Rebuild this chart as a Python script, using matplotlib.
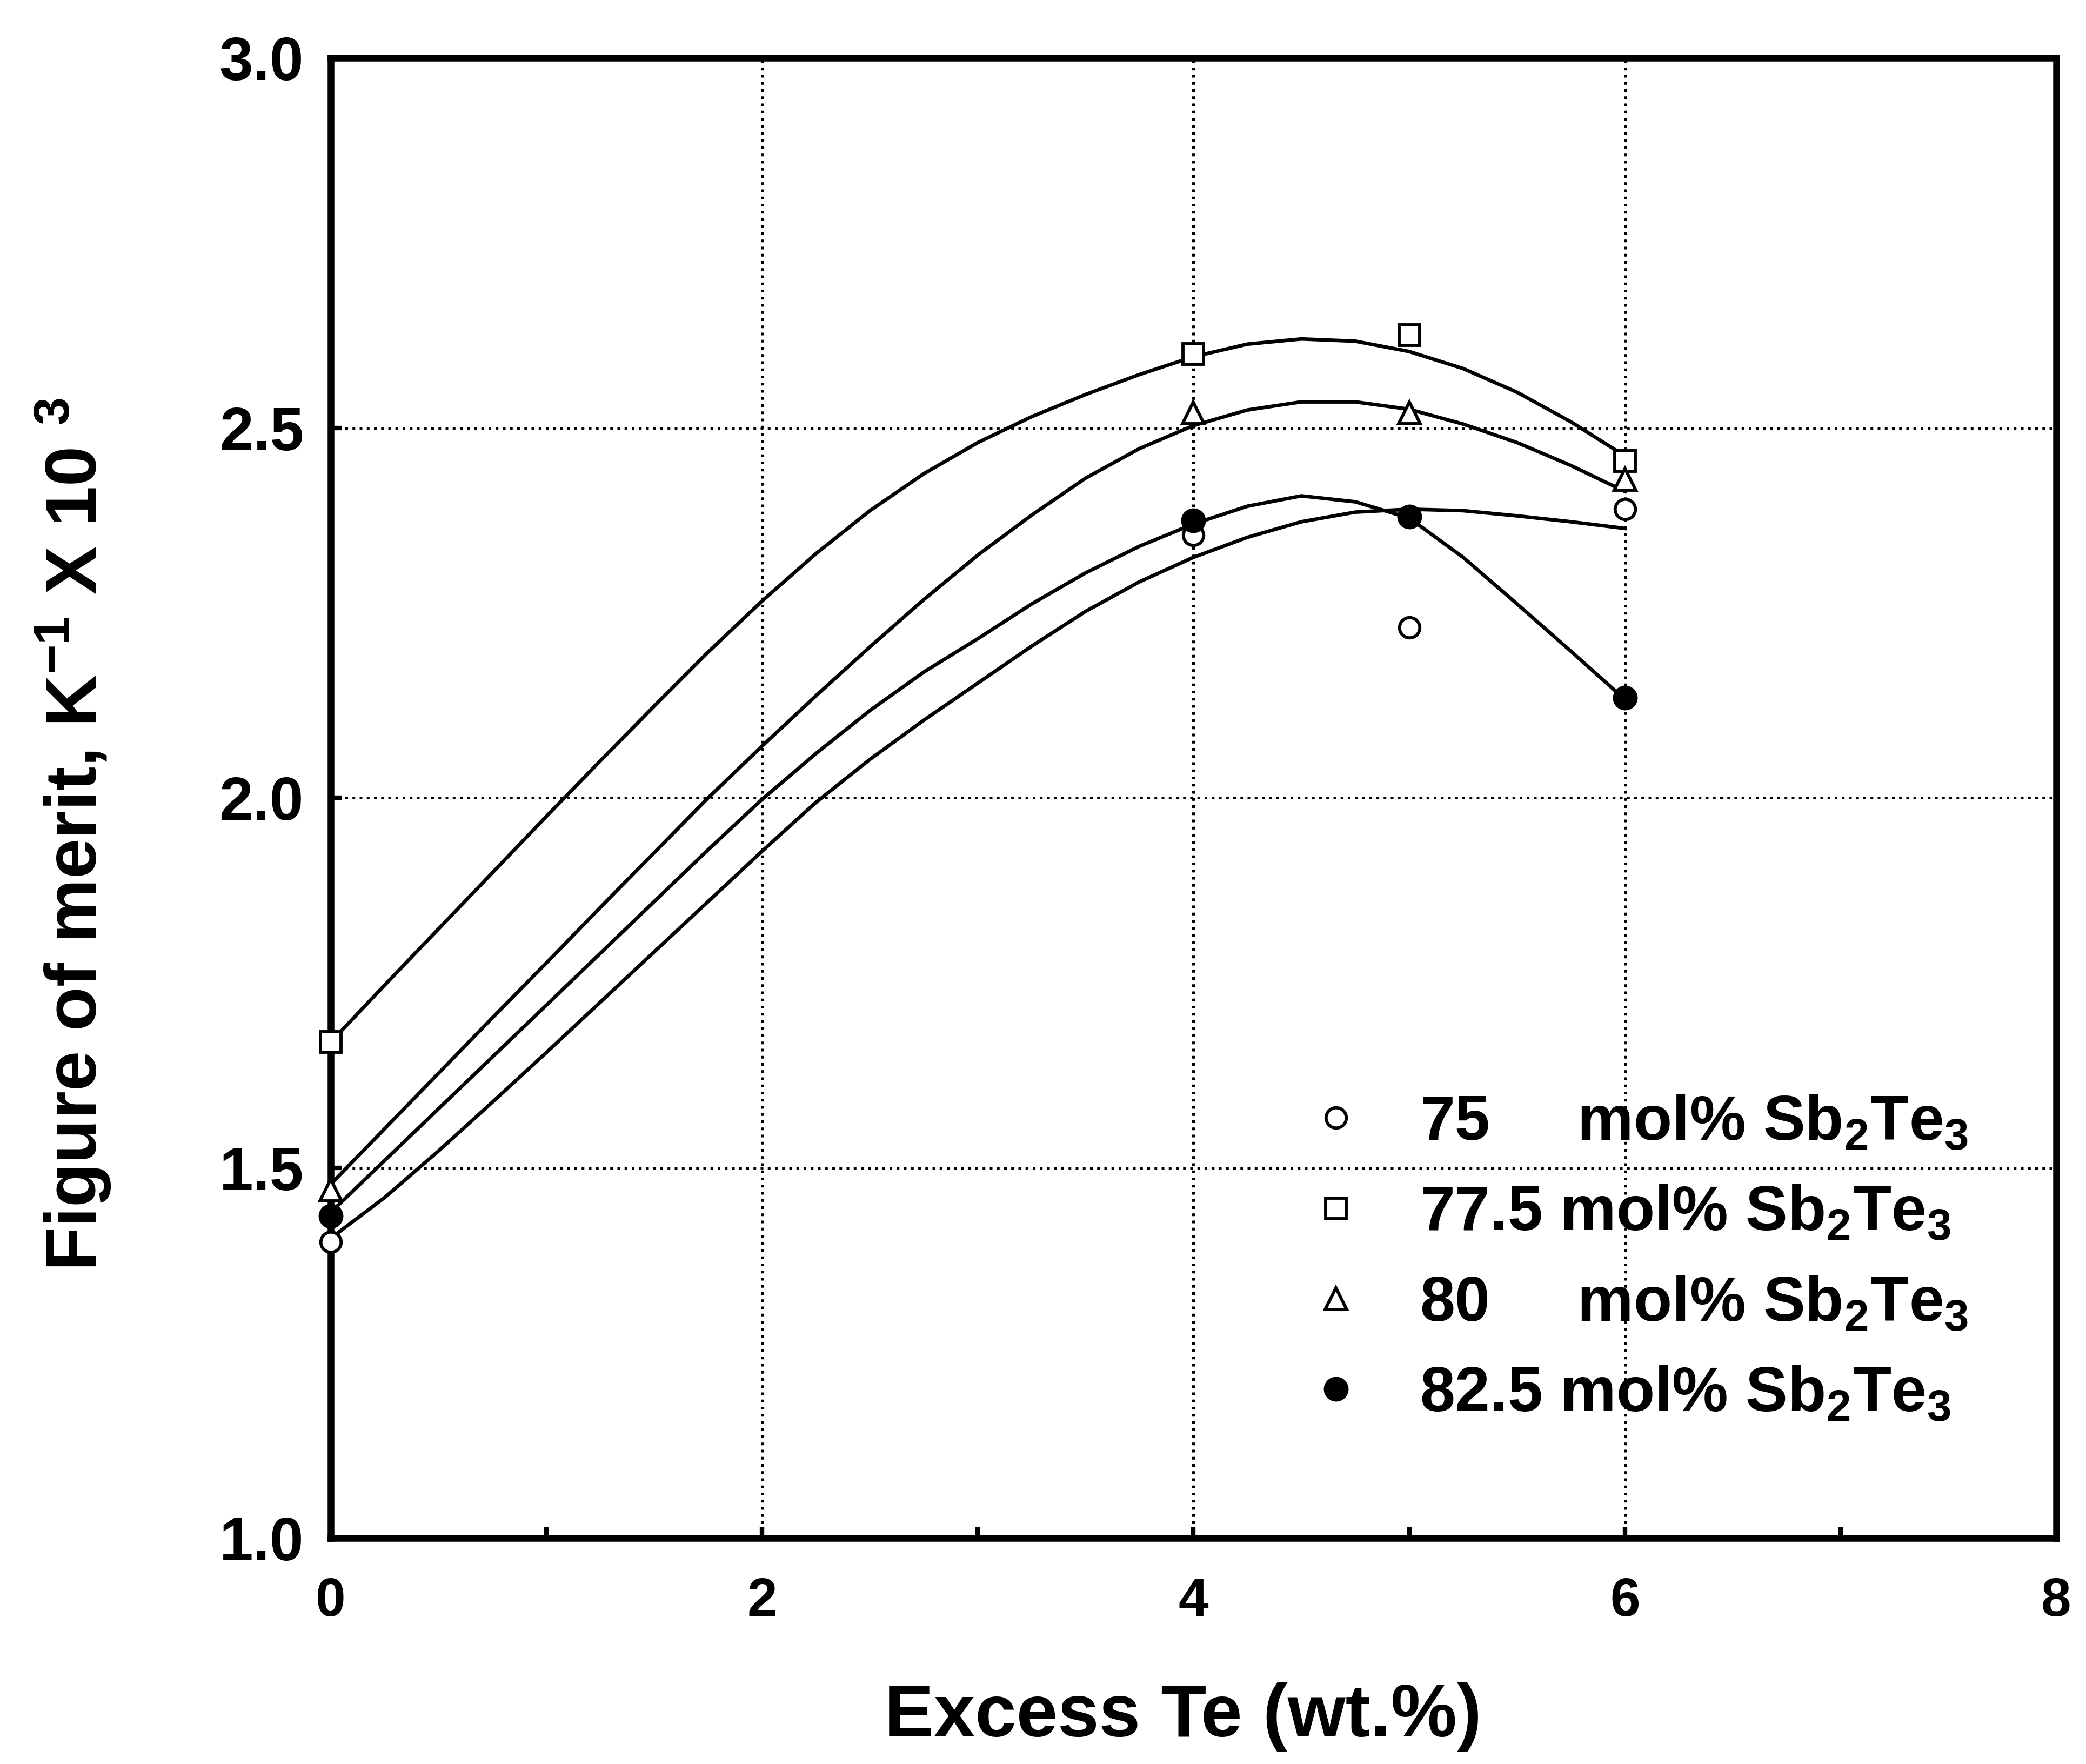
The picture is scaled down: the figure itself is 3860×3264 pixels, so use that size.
import matplotlib
matplotlib.use("Agg")
import matplotlib.pyplot as plt
from matplotlib.ticker import MultipleLocator

# measured figure of merit (x 10^3, 1/K) vs excess Te
excess_te = [0, 4, 5, 6]
zt_75 = [1.40, 2.355, 2.23, 2.39]
zt_775 = [1.67, 2.60, 2.625, 2.455]
zt_80 = [1.47, 2.52, 2.52, 2.43]
zt_825 = [1.435, 2.375, 2.38, 2.135]

# smoothed trend curves, sampled every 0.25 wt.%
curve_x = [0, 0.25, 0.5, 0.75, 1.0, 1.25, 1.5, 1.75, 2.0, 2.25, 2.5, 2.75, 3.0,
           3.25, 3.5, 3.75, 4.0, 4.25, 4.5, 4.75, 5.0, 5.25, 5.5, 5.75, 6.0]
fit_775 = [1.670, 1.747, 1.823, 1.899, 1.975, 2.050, 2.124, 2.197, 2.266, 2.330,
           2.388, 2.438, 2.480, 2.515, 2.545, 2.572, 2.596, 2.613, 2.620, 2.617,
           2.603, 2.580, 2.548, 2.508, 2.462]
fit_80 = [1.478, 1.553, 1.628, 1.703, 1.777, 1.852, 1.926, 2.000, 2.070, 2.138,
          2.204, 2.268, 2.328, 2.382, 2.432, 2.472, 2.503, 2.524, 2.535, 2.535,
          2.525, 2.505, 2.480, 2.449, 2.414]
fit_825 = [1.440, 1.510, 1.580, 1.650, 1.720, 1.790, 1.860, 1.930, 1.998, 2.060,
           2.118, 2.170, 2.215, 2.262, 2.304, 2.340, 2.370, 2.394, 2.408, 2.400,
           2.378, 2.325, 2.262, 2.198, 2.133]
fit_75 = [1.405, 1.460, 1.523, 1.589, 1.656, 1.724, 1.792, 1.860, 1.928, 1.994,
          2.052, 2.105, 2.155, 2.205, 2.252, 2.292, 2.325, 2.352, 2.373, 2.386,
          2.390, 2.388, 2.381, 2.373, 2.364]

x_ticks = [0, 2, 4, 6, 8]
y_ticks = [1.0, 1.5, 2.0, 2.5, 3.0]

plt.rcParams.update({
    "font.family": ["Liberation Sans", "DejaVu Sans"],
    "font.weight": "bold",
    "mathtext.fontset": "custom",
    "mathtext.rm": "Liberation Sans:bold",
    "mathtext.it": "Liberation Sans:bold",
    "mathtext.bf": "Liberation Sans:bold",
    "mathtext.sf": "Liberation Sans:bold",
})

fig = plt.figure(figsize=(12.87, 10.88), dpi=300)
ax = fig.add_axes([0.1585, 0.1281, 0.8270, 0.8392])

# trend curves
for fy in (fit_775, fit_80, fit_825, fit_75):
    ax.plot(curve_x, fy, color="black", linewidth=1.6, zorder=3)

# data points
ax.plot(excess_te, zt_75, linestyle="none", marker="o", markersize=9,
        markerfacecolor="white", markeredgecolor="black", markeredgewidth=1.4,
        clip_on=False, zorder=4, label="75     mol% Sb$_2$Te$_3$")
ax.plot(excess_te, zt_775, linestyle="none", marker="s", markersize=9,
        markerfacecolor="white", markeredgecolor="black", markeredgewidth=1.4,
        clip_on=False, zorder=4, label="77.5 mol% Sb$_2$Te$_3$")
ax.plot(excess_te, zt_80, linestyle="none", marker="^", markersize=9.5,
        markerfacecolor="white", markeredgecolor="black", markeredgewidth=1.4,
        clip_on=False, zorder=4, label="80     mol% Sb$_2$Te$_3$")
ax.plot(excess_te, zt_825, linestyle="none", marker="o", markersize=10,
        markerfacecolor="black", markeredgecolor="black", markeredgewidth=1.0,
        clip_on=False, zorder=4, label="82.5 mol% Sb$_2$Te$_3$")

ax.set_xlim(0, 8)
ax.set_ylim(1.0, 3.0)
ax.set_xticks(x_ticks)
ax.set_yticks(y_ticks)
ax.set_xticklabels([str(v) for v in x_ticks])
ax.set_yticklabels([f"{v:.1f}" for v in y_ticks])
ax.xaxis.set_minor_locator(MultipleLocator(1))

ax.grid(True, which="major", linestyle=":", linewidth=1.2, color="black")
ax.set_axisbelow(True)

for sp in ax.spines.values():
    sp.set_linewidth(3.0)

ax.tick_params(axis="x", which="major", direction="in", length=5, width=2,
               labelsize=24, pad=17)
ax.tick_params(axis="x", which="minor", direction="in", length=5, width=2)
ax.tick_params(axis="y", which="major", direction="in", length=5, width=2,
               labelsize=27, pad=12)

fig.text(0.567, 1 - 3177 / 3264, "Excess Te (wt.%)", fontsize=33,
         fontweight="bold", ha="center", va="center")
fig.text(0.035, 0.527, "Figure of merit, K$^{-1}$ X 10 $^{3}$", fontsize=32,
         fontweight="bold", ha="center", va="center", rotation=90)

ax.legend(loc="upper left", bbox_to_anchor=(0.610, 0.3977),
          bbox_transform=fig.transFigure, frameon=False, fontsize=28,
          handlelength=1.0, handletextpad=0.83, labelspacing=0.5,
          borderpad=0, markerscale=1.0)

fig.savefig("out.png", dpi=300)
